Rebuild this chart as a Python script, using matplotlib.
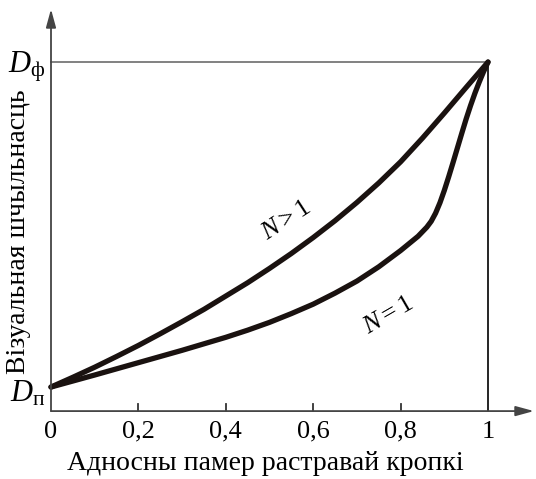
import numpy as np
import matplotlib
matplotlib.use("Agg")
import matplotlib.pyplot as plt
from matplotlib import font_manager

# pick a Times-like serif font that is really installed
serif_name = 'DejaVu Serif'
for name in ['Liberation Serif', 'Times New Roman', 'Nimbus Roman', 'DejaVu Serif']:
    try:
        font_manager.findfont(font_manager.FontProperties(family=name), fallback_to_default=False)
        serif_name = name
        break
    except Exception:
        pass

plt.rcParams['font.family'] = [serif_name, 'DejaVu Serif']
plt.rcParams['mathtext.fontset'] = 'custom'
plt.rcParams['mathtext.rm'] = serif_name
plt.rcParams['mathtext.it'] = serif_name + ':italic'

# curve N>1 (upper): relative dot size vs relative density
x_upper = [0, 0.05, 0.10, 0.15, 0.20, 0.25, 0.30, 0.35, 0.40, 0.45, 0.50,
           0.55, 0.60, 0.65, 0.70, 0.75, 0.80, 0.85, 0.90, 0.95, 1.0]
y_upper = [0, 0.030, 0.061, 0.094, 0.128, 0.164, 0.201, 0.239, 0.280, 0.321, 0.365,
           0.411, 0.460, 0.512, 0.568, 0.628, 0.693, 0.766, 0.843, 0.922, 1.0]

# curve N=1 (lower)
x_lower = [0, 0.05, 0.10, 0.15, 0.20, 0.25, 0.30, 0.35, 0.40, 0.45, 0.50, 0.55, 0.60,
           0.65, 0.70, 0.75, 0.80, 0.84, 0.86, 0.87, 0.88, 0.89, 0.90, 0.91, 0.92,
           0.93, 0.94, 0.95, 0.96, 0.97, 0.98, 0.99, 1.0]
y_lower = [0, 0.0185, 0.037, 0.056, 0.075, 0.094, 0.113, 0.133, 0.153, 0.175, 0.199, 0.226, 0.255,
           0.289, 0.326, 0.370, 0.420, 0.464, 0.492, 0.510, 0.535, 0.567, 0.605, 0.647, 0.691,
           0.736, 0.781, 0.825, 0.866, 0.904, 0.939, 0.971, 1.0]

x_ticks = [0.2, 0.4, 0.6, 0.8]
x_ticklabels = ['0', '0,2', '0,4', '0,6', '0,8', '1']
x_ticklabel_pos = [0, 0.2, 0.4, 0.6, 0.8, 1.0]

fig = plt.figure(figsize=(5.36, 4.79), dpi=100)
ax = fig.add_axes([0, 0, 1, 1])
ax.set_xlim(-0.1167, 1.1098)
ax.set_ylim(-0.283, 1.191)
ax.axis('off')

x_axis_y = -0.074

# axes with arrows
ax.annotate('', xy=(1.105, x_axis_y), xytext=(0, x_axis_y),
            arrowprops=dict(arrowstyle='-|>,head_length=1.1,head_width=0.3', color='#444444', lw=1.3,
                            shrinkA=0, shrinkB=0))
ax.annotate('', xy=(0, 1.163), xytext=(0, x_axis_y),
            arrowprops=dict(arrowstyle='-|>,head_length=1.1,head_width=0.3', color='#444444', lw=1.3,
                            shrinkA=0, shrinkB=0))

# guide lines at D_ф and x=1
ax.plot([0, 1], [1, 1], color='#777777', lw=1.3)
ax.plot([1, 1], [1, x_axis_y], color='black', lw=1.2)

# ticks
for t in x_ticks:
    ax.plot([t, t], [x_axis_y, x_axis_y + 0.022], color='#333333', lw=1.3)
for p, lab in zip(x_ticklabel_pos, x_ticklabels):
    ax.text(p, -0.138, lab, ha='center', va='center', fontsize=19)

# curves
ax.plot(x_upper, y_upper, color='#1a1210', lw=3.8, solid_joinstyle='round', solid_capstyle='round')
ax.plot(x_lower, y_lower, color='#1a1210', lw=3.8, solid_joinstyle='round', solid_capstyle='round')

# labels on curves
ax.text(0.538, 0.512, r'$N>1$', fontsize=19, rotation=33, ha='center', va='center')
ax.text(0.773, 0.220, r'$N=1$', fontsize=19, rotation=30, ha='center', va='center')

# level labels
ax.text(-0.012, 0.985, r'$D_{\mathrm{ф}}$', fontsize=22, ha='right', va='center')
ax.text(-0.012, -0.02, r'$D_{\mathrm{п}}$', fontsize=22, ha='right', va='center')

# axis titles
ax.text(0.49, -0.234, 'Адносны памер растравай кропкі', fontsize=20, ha='center', va='center')
ax.text(-0.0755, 0.477, 'Візуальная шчыльнасць', fontsize=20, rotation=90, ha='center', va='center')

fig.savefig('out.png', dpi=100)
